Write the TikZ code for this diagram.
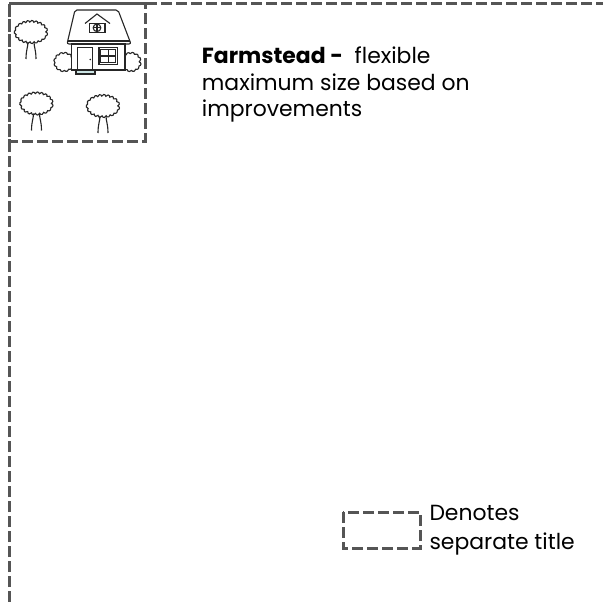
\documentclass[tikz,border=0pt]{standalone}
\usepackage{fontspec}
\setmainfont{Poppins}
\usetikzlibrary{decorations.pathmorphing}
\definecolor{dashgray}{HTML}{555555}
\tikzset{
  dashline/.style={draw=dashgray, line width=3pt, dash pattern=on 11pt off 4pt},
  ink/.style={draw=black!85, line width=1.1pt},
  crown/.style={ink, fill=white, decorate, decoration={bumps, segment length=8pt, amplitude=2pt}},
  label/.style={inner sep=0pt, font=\fontsize{21.9}{26.7}\selectfont, align=left},
  farmtree/.pic={
    \draw[crown] (0,0) ellipse (14.5 and 9.5);
    \draw[ink] (-3,10) .. controls (-3,15) and (-5,18) .. (-5,27);
    \draw[ink] (3,10) .. controls (3,15) and (5,18) .. (5,27);
  }
}
\begin{document}
\begin{tikzpicture}[x=1pt,y=-1pt]
  \useasboundingbox (0,0) rectangle (603,602);
  % outer boundary and farmstead parcel
  \draw[dashline] (9,602) -- (9,4) -- (603,4);
  \draw[dashline] (9,4) rectangle (145,141);
  % trees
  \pic at (31,32) {farmtree};
  \pic at (36.5,103.5) {farmtree};
  \pic at (103,106) {farmtree};
  % bushes
  \draw[crown] (64,62) ellipse (8 and 7.5);
  \draw[crown] (131,62) ellipse (8 and 7.5);
  % house
  \draw[ink, fill=white, rounded corners=2pt] (67,44) -- (75,10) -- (118,10) -- (131,44) -- cycle;
  \draw[ink] (68,41) -- (130,41);
  \draw[ink, fill=white] (71.5,44) rectangle (125,70);
  \draw[ink] (77.5,47.5) rectangle (92.5,70);
  \fill[black!85] (90.3,59.5) circle (0.9);
  \draw[ink, fill=teal!20] (76,70) rectangle (95,74);
  \draw[ink] (99,47.5) rectangle (117.5,64.5);
  \draw[ink] (100.8,49.3) rectangle (115.7,62.7);
  \draw[ink] (108.3,49.3) -- (108.3,62.7) (100.8,56) -- (115.7,56);
  \draw[ink, fill=white] (89.5,23.5) rectangle (105,32.5);
  \draw[ink] (85,23.5) -- (97,14) -- (110,23.5);
  \draw[ink] (97,27.8) circle (3.8);
  \draw[ink] (97,24) -- (97,31.6) (93.2,27.8) -- (100.8,27.8);
  % labels
  \node[label, anchor=base west] (farmstead) at (201.7,116.7)
    {\textbf{Farmstead -}~ flexible\\maximum size based on\\improvements};
  \draw[dashline] (343,512) rectangle (420,548);
  \node[label, anchor=base west, font=\fontsize{21.9}{29}\selectfont] (legend) at (429.3,549.5)
    {Denotes\\separate title};
\end{tikzpicture}
\end{document}
